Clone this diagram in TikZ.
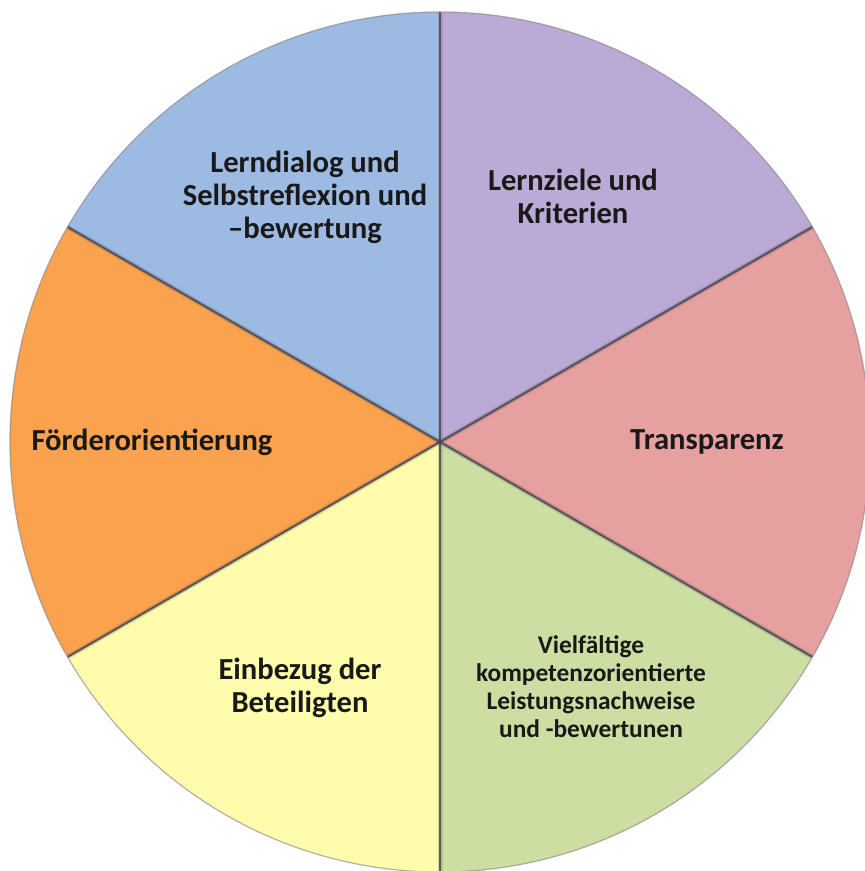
\documentclass[tikz,border=0pt]{standalone}
\usepackage{fontspec}
\setmainfont{Carlito}
\usetikzlibrary{positioning,calc}
\definecolor{segblue}{RGB}{157,187,226}
\definecolor{segpurple}{RGB}{188,170,214}
\definecolor{segpink}{RGB}{231,160,160}
\definecolor{seggreen}{RGB}{205,222,162}
\definecolor{segyellow}{RGB}{255,252,172}
\definecolor{segorange}{RGB}{250,162,78}
\definecolor{seam}{RGB}{70,70,80}
\tikzset{
  lbl/.style={align=center,font=\fontsize{15.3}{16.5}\selectfont\bfseries,text=black!90},
  lblsmall/.style={lbl,font=\fontsize{12.7}{14}\selectfont\bfseries}
}

\begin{document}
\begin{tikzpicture}[x=0.5pt,y=0.5pt,line width=0.6pt]
		\def\cx{440}
		\def\cy{429}
		\def\r{430}
		\useasboundingbox (0,0) rectangle (864,871);
		\coordinate (M) at (\cx,\cy);
		% sectors
		\foreach \a/\b/\c in {30/90/segpurple,-30/30/segpink,-90/-30/seggreen,-150/-90/segyellow,150/210/segorange,90/150/segblue}
			\fill[\c] (M) -- ++(\a:\r) arc[start angle=\a,end angle=\b,radius=\r] -- cycle;
		% soft shadow and seams
		\foreach \a in {90,30,-30,-90,-150,150}
			\draw[seam,opacity=0.2,line width=2.5pt] (M) -- ++(\a:\r-1);
		\foreach \a in {90,30,-30,-90,-150,150}
			\draw[seam,opacity=0.85,line width=1pt] (M) -- ++(\a:\r);
		\draw[seam!70,opacity=0.6] (M) circle[radius=\r];
		% labels
		\node[lbl] (dialog) at (305,674) {Lerndialog und\\Selbstreflexion und\\–bewertung};
		\node[lbl] (ziele) at (573,675) {Lernziele und\\Kriterien};
		\node[lbl] (transparenz) at (707,429) {Transparenz};
		\node[lblsmall] (nachweise) at (591,184) {Vielfältige\\kompetenzorientierte\\Leistungsnachweise\\und -bewertunen};
		\node[lbl] (einbezug) at (300,183) {Einbezug der\\Beteiligten};
		\node[lbl] (foerder) at (152,429) {Förderorientierung};
	\end{tikzpicture}
\end{document}
